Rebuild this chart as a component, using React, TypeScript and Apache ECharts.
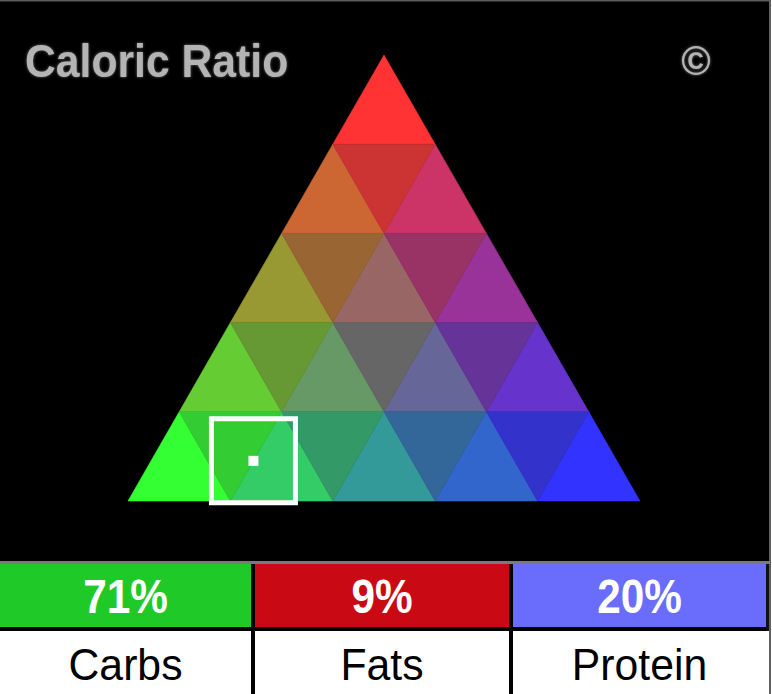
import React, { useEffect, useRef } from "react";
import * as echarts from "echarts";

// Macro split shown below the triangle
const MACROS = ["Carbs", "Fats", "Protein"];
const PERCENTS = [71, 9, 20];
const MACRO_COLORS = ["#1fc928", "#c90a14", "#6a6cfb"];

// Triangle lattice: rows of cells, and the channel level for each lattice step
const ROWS = 5;
const CHANNEL_LEVELS = ["33", "66", "99", "cc", "ff"];

const TITLE = "Caloric Ratio";

type Cell = { pts: number[]; rgb: [number, number, number] };

// Build the up/down triangles of the ternary colour map.
// Corners: carbs (0,0), fats apex (0.5,1), protein (1,0).
function buildCells(): Cell[] {
  const cells: Cell[] = [];
  const step = 1 / ROWS;
  for (let r = 0; r < ROWS; r++) {
    const yt = 1 - r * step;
    const yb = 1 - (r + 1) * step;
    const leftTop = 0.5 - (r * step) / 2;
    const leftBot = 0.5 - ((r + 1) * step) / 2;
    for (let k = 0; k <= r; k++) {
      cells.push({
        pts: [leftTop + k * step, yt, leftBot + k * step, yb, leftBot + (k + 1) * step, yb],
        rgb: [ROWS - 1 - r, r - k, k],
      });
    }
    for (let k = 0; k < r; k++) {
      cells.push({
        pts: [leftTop + k * step, yt, leftTop + (k + 1) * step, yt, leftBot + (k + 1) * step, yb],
        rgb: [ROWS - 1 - r, r - 1 - k, k],
      });
    }
  }
  return cells;
}

const hexOf = (rgb: [number, number, number]) =>
  "#" + rgb.map((n) => CHANNEL_LEVELS[n]).join("");

export default function App() {
  const ref = useRef<HTMLDivElement>(null);

  useEffect(() => {
    if (!ref.current) return;
    const chart = echarts.init(ref.current, undefined, { renderer: "svg" });
    const cells = buildCells();
    const cellColors = cells.map((c) => hexOf(c.rgb));

    const [carbs, fats, protein] = PERCENTS.map((v) => v / 100);
    const point = [protein + fats / 2, fats];

    const cellLeft = [0, 255, 513];
    const cellRight = [251, 509, 766];
    const graphics: any[] = [
      // dark panel
      { type: "rect", shape: { x: 0, y: 0, width: 770, height: 561 }, style: { fill: "#000" } },
      { type: "rect", shape: { x: 0, y: 0, width: 770, height: 1.5 }, style: { fill: "#5c5c5c" } },
      { type: "rect", shape: { x: 769, y: 0, width: 2, height: 694 }, style: { fill: "#606060" } },
      { type: "rect", shape: { x: 0, y: 561, width: 770, height: 3 }, style: { fill: "#7a7a7a" } },
      // table rules
      { type: "rect", shape: { x: 0, y: 627, width: 769, height: 4 }, style: { fill: "#000" } },
      { type: "rect", shape: { x: 251, y: 564, width: 4, height: 130 }, style: { fill: "#000" } },
      { type: "rect", shape: { x: 509, y: 564, width: 4, height: 130 }, style: { fill: "#000" } },
      { type: "rect", shape: { x: 766, y: 564, width: 3, height: 67 }, style: { fill: "#111" } },
      {
        type: "text",
        x: 25,
        y: 61,
        scaleX: 0.97,
        scaleY: 1.05,
        style: {
          x: 0,
          y: 0,
          text: TITLE,
          fill: "#b4b4b4",
          font: 'bold 44px "Liberation Sans", Arial, sans-serif',
          textAlign: "left",
          textVerticalAlign: "middle",
          textShadowColor: "rgba(190,190,190,0.55)",
          textShadowBlur: 3,
        },
      },
      {
        type: "text",
        x: 696,
        y: 61,
        style: {
          x: 0,
          y: 0,
          text: "©",
          fill: "#b4b4b4",
          font: 'bold 40px "Liberation Sans", Arial, sans-serif',
          textAlign: "center",
          textVerticalAlign: "middle",
          textShadowColor: "rgba(190,190,190,0.55)",
          textShadowBlur: 3,
        },
      },
    ];

    MACROS.forEach((name, i) => {
      const cx = (cellLeft[i] + cellRight[i]) / 2;
      graphics.push({
        type: "rect",
        shape: { x: cellLeft[i], y: 564, width: cellRight[i] - cellLeft[i], height: 63 },
        style: { fill: MACRO_COLORS[i] },
      });
      graphics.push({
        type: "text",
        x: cx,
        y: 597,
        scaleX: 0.92,
        scaleY: 1.04,
        style: {
          x: 0,
          y: 0,
          text: `${PERCENTS[i]}%`,
          fill: "#fff",
          font: 'bold 46px "Liberation Sans", Arial, sans-serif',
          textAlign: "center",
          textVerticalAlign: "middle",
        },
      });
      graphics.push({
        type: "text",
        x: cx,
        y: 664,
        scaleX: 0.95,
        style: {
          x: 0,
          y: 0,
          text: name,
          fill: "#000",
          font: '45px "Liberation Sans", Arial, sans-serif',
          textAlign: "center",
          textVerticalAlign: "middle",
        },
      });
    });

    chart.setOption({
      animation: false,
      backgroundColor: "#ffffff",
      graphic: graphics,
      grid: { left: 128, top: 55, width: 512, height: 446 },
      xAxis: { type: "value", min: 0, max: 1, show: false },
      yAxis: { type: "value", min: 0, max: 1, show: false },
      series: [
        {
          type: "custom",
          silent: true,
          data: cells.map((c) => c.pts),
          encode: { x: [0, 2, 4], y: [1, 3, 5] },
          renderItem: (params: any, api: any) => {
            const pts = [0, 1, 2].map((j) => api.coord([api.value(j * 2), api.value(j * 2 + 1)]));
            const color = cellColors[params.dataIndex];
            return {
              type: "polygon",
              shape: { points: pts },
              style: { fill: color, stroke: color, lineWidth: 0.6 },
            };
          },
        },
        {
          type: "scatter",
          silent: true,
          data: [point],
          symbol: "rect",
          symbolSize: 84,
          itemStyle: { color: "rgba(0,0,0,0)", borderColor: "#ffffff", borderWidth: 5, opacity: 1 },
          z: 3,
        },
        {
          type: "scatter",
          silent: true,
          data: [point],
          symbol: "rect",
          symbolSize: 10,
          itemStyle: { color: "#ffffff", opacity: 1 },
          z: 4,
        },
      ],
    });

    return () => chart.dispose();
  }, []);

  return (
    <div
      ref={ref}
      style={{ position: "fixed", left: 0, top: 0, width: 772, height: 694 }}
    />
  );
}
